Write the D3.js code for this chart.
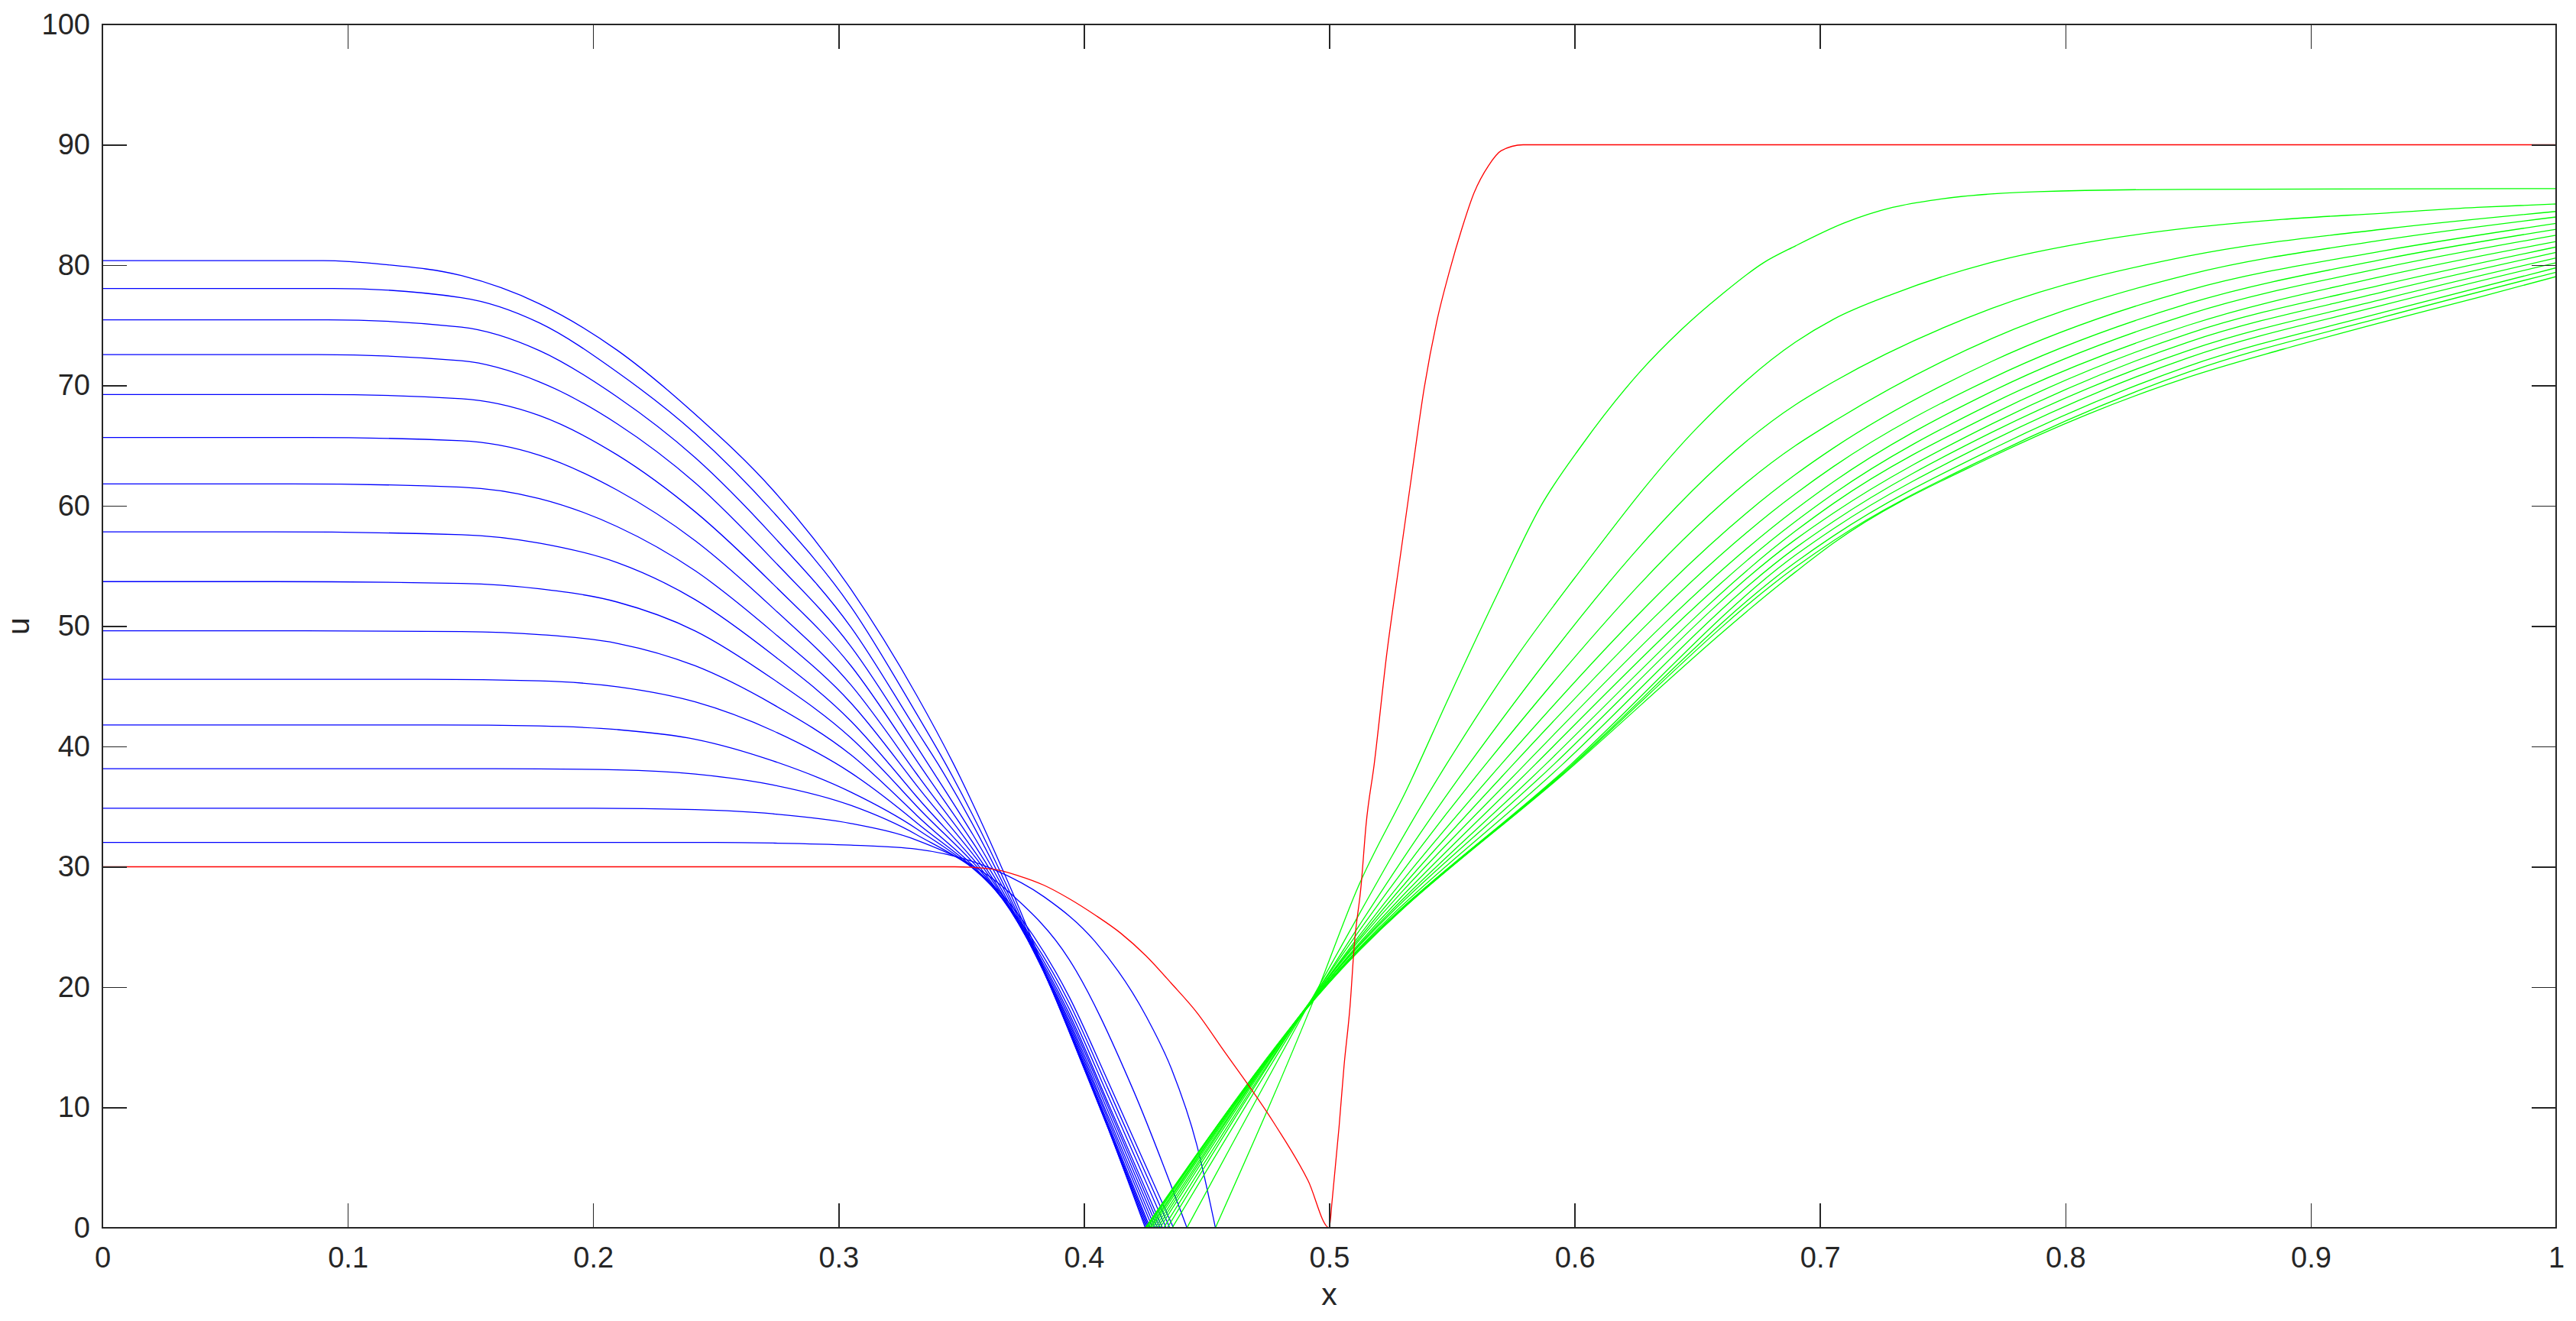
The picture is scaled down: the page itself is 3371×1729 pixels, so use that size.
<!DOCTYPE html>
<html>
<head>
<meta charset="utf-8">
<script src="https://cdn.jsdelivr.net/npm/d3@7/dist/d3.min.js"></script>
<style>
  html, body { margin: 0; padding: 0; background: #ffffff; }
  svg { display: block; }
  text { font-family: "Liberation Sans", Arial, Helvetica, sans-serif; fill: #262626; }
</style>
</head>
<body>
<svg id="chart" width="3371" height="1729"></svg>
<script>
// ---------------- data ----------------
const xTicks = [0, 0.1, 0.2, 0.3, 0.4, 0.5, 0.6, 0.7, 0.8, 0.9, 1];
const xTickLabels = ["0", "0.1", "0.2", "0.3", "0.4", "0.5", "0.6", "0.7", "0.8", "0.9", "1"];
const yTicks = [0, 10, 20, 30, 40, 50, 60, 70, 80, 90, 100];
const yTickLabels = ["0", "10", "20", "30", "40", "50", "60", "70", "80", "90", "100"];
const xLabel = "x";
const yLabel = "u";

// initial profile (red)
const redCurve = [[0,30],[0.3474,30],[0.363,29.8],[0.3734,29.25],[0.3838,28.46],[0.394,27.35],[0.4045,26.0],
  [0.4149,24.5],[0.4253,22.6],[0.4357,20.3],[0.446,17.9],[0.4564,14.9],[0.4775,8.7],[0.4914,3.9],[0.5,0],
  [0.5011,2.1],[0.504,8.4],[0.506,13.4],[0.5085,18.5],[0.5102,23.5],[0.513,28.5],[0.515,33.5],[0.5183,38.5],
  [0.5235,47.8],[0.5286,55.3],[0.5337,62.7],[0.5387,69.8],[0.5438,75.3],[0.549,79.5],[0.554,83.0],[0.559,86.0],
  [0.565,88.3],[0.570,89.5],[0.579,90],[1,90]];

// left-hand profiles (blue)
const blueCurves = [
  [[0,80.37],[0.09,80.37],[0.1146,80.06],[0.1463,79.13],[0.1781,76.79],[0.2098,72.93],[0.2416,67.6],[0.2733,61.3],[0.3051,53.05],[0.3318,44.27],[0.347,38.5],[0.37,28.3],[0.394,16.3],[0.41,8.2],[0.425,0]],
  [[0,78.06],[0.094,78.06],[0.1463,77.3],[0.1781,75.2],[0.2098,71.11],[0.2416,66.0],[0.2733,59.5],[0.3051,51.6],[0.3318,42.72],[0.3438,38.5],[0.37,27.8],[0.394,16.3],[0.41,8.2],[0.4255,0]],
  [[0,75.45],[0.092,75.45],[0.1463,74.85],[0.1781,72.9],[0.2098,69.05],[0.2416,64.0],[0.2733,57.5],[0.3051,49.9],[0.3318,41.35],[0.3407,38.5],[0.37,27.4],[0.394,16.4],[0.41,8.3],[0.426,0]],
  [[0,72.56],[0.088,72.56],[0.1463,72.05],[0.1781,70.3],[0.2098,66.81],[0.2416,61.9],[0.2733,55.5],[0.3051,48.3],[0.3318,40.04],[0.37,27.1],[0.394,16.5],[0.41,8.4],[0.4265,0]],
  [[0,69.25],[0.088,69.25],[0.1463,68.9],[0.1781,67.5],[0.2098,64.23],[0.2416,59.5],[0.2733,53.5],[0.3051,46.7],[0.3318,38.83],[0.37,26.8],[0.394,16.6],[0.41,8.6],[0.427,0]],
  [[0,65.68],[0.084,65.68],[0.1463,65.4],[0.1781,64.2],[0.2098,61.3],[0.2416,57.1],[0.2733,51.5],[0.3051,45.1],[0.3318,37.73],[0.37,26.6],[0.394,16.8],[0.41,8.9],[0.428,0]],
  [[0,61.82],[0.077,61.82],[0.1463,61.55],[0.1781,60.6],[0.2098,58.27],[0.2416,54.6],[0.2733,49.5],[0.3051,43.6],[0.3318,36.77],[0.37,26.5],[0.394,17.0],[0.41,9.2],[0.429,0]],
  [[0,57.83],[0.07,57.83],[0.1463,57.6],[0.1781,56.9],[0.2098,55.28],[0.2416,52.2],[0.2733,47.6],[0.3051,42.1],[0.3318,35.84],[0.37,26.4],[0.394,17.2],[0.41,9.6],[0.43,0]],
  [[0,53.70],[0.07,53.70],[0.1463,53.55],[0.1781,53.1],[0.2098,52.0],[0.2416,49.6],[0.2733,45.6],[0.3051,40.7],[0.3318,35.05],[0.37,26.4],[0.394,17.5],[0.41,10.0],[0.431,0]],
  [[0,49.61],[0.083,49.61],[0.1463,49.55],[0.1781,49.3],[0.2098,48.57],[0.2416,46.7],[0.2733,43.5],[0.3051,39.3],[0.3318,34.29],[0.37,26.4],[0.394,17.8],[0.41,10.3],[0.432,0]],
  [[0,45.58],[0.132,45.58],[0.1781,45.45],[0.2098,44.96],[0.2416,43.7],[0.2733,41.3],[0.3051,37.8],[0.3318,33.67],[0.37,26.5],[0.394,18.2],[0.41,10.9],[0.4335,0]],
  [[0,41.79],[0.137,41.79],[0.1781,41.7],[0.2098,41.4],[0.2416,40.6],[0.2733,38.8],[0.3051,36.2],[0.3318,33.16],[0.37,26.6],[0.394,18.7],[0.41,11.5],[0.435,0]],
  [[0,38.15],[0.16,38.15],[0.2098,38.05],[0.2416,37.7],[0.2733,36.8],[0.3051,35.1],[0.3318,32.67],[0.37,26.9],[0.394,19.2],[0.41,12.1],[0.4365,0]],
  [[0,34.87],[0.2,34.87],[0.2416,34.75],[0.2733,34.4],[0.3051,33.6],[0.3318,32.22],[0.37,27.8],[0.394,22.3],[0.42,11.5],[0.442,0]],
  [[0,32.02],[0.25,32.02],[0.2733,31.97],[0.3051,31.8],[0.3318,31.47],[0.363,29.8],[0.3838,27.5],[0.4045,23.8],[0.4253,17.6],[0.4357,13.2],[0.446,6.9],[0.4536,0]]
];

// right-hand profiles (green)
const greenCurves = [
  [[0.4536,0],[0.4948,19.5],[0.5117,28.3],[0.532,36.6],[0.5488,44.1],[0.5691,52.9],[0.586,59.9],[0.6028,65.0],[0.6265,71.1],[0.6433,74.6],[0.6602,77.6],[0.677,80.2],[0.69,81.6],[0.7098,83.5],[0.7296,84.8],[0.7495,85.5],[0.789,86.1],[0.85,86.3],[1.0,86.36]],
  [[0.442,0],[0.4945,19.6],[0.5477,38.5],[0.5758,47.3],[0.6,54.0],[0.65,66.5],[0.69,73.6],[0.7055,75.5],[0.7297,77.6],[0.7693,80.2],[0.809,81.9],[0.8488,83.05],[0.8885,83.8],[0.9282,84.3],[0.9679,84.8],[1.0,85.08]],
  [[0.436,0],[0.4945,19.5],[0.5568,38.5],[0.69,68.4],[0.7055,70.3],[0.77,76.4],[0.85,80.75],[0.93,83.0],[1.0,84.46]],
  [[0.434,0],[0.4945,19.5],[0.5637,38.5],[0.69,65.0],[0.7055,67.0],[0.77,73.9],[0.85,79.2],[0.93,82.1],[1.0,84.0]],
  [[0.4325,0],[0.4945,19.4],[0.57,38.5],[0.69,62.6],[0.7055,64.8],[0.77,72.0],[0.85,77.9],[0.93,81.2],[1.0,83.47]],
  [[0.431,0],[0.4945,19.4],[0.5749,38.5],[0.69,61.0],[0.7055,63.26],[0.77,70.6],[0.85,76.8],[0.93,80.5],[1.0,82.98]],
  [[0.430,0],[0.4945,19.4],[0.5797,38.5],[0.69,59.7],[0.7055,62.0],[0.77,69.5],[0.85,75.9],[0.93,79.8],[1.0,82.48]],
  [[0.429,0],[0.4945,19.3],[0.5839,38.5],[0.69,58.7],[0.7055,61.0],[0.77,68.5],[0.85,75.0],[0.93,79.1],[1.0,81.96]],
  [[0.428,0],[0.4945,19.3],[0.5881,38.5],[0.69,57.9],[0.7055,60.2],[0.77,67.6],[0.85,74.3],[0.93,78.4],[1.0,81.51]],
  [[0.4273,0],[0.4945,19.3],[0.5915,38.5],[0.69,57.2],[0.7055,59.4],[0.77,66.8],[0.85,73.6],[0.93,77.8],[1.0,81.06]],
  [[0.4267,0],[0.4945,19.2],[0.595,38.5],[0.69,56.5],[0.7055,58.7],[0.77,66.1],[0.85,72.9],[0.93,77.2],[1.0,80.6]],
  [[0.426,0],[0.4945,19.2],[0.5984,38.5],[0.69,55.9],[0.7055,58.1],[0.77,65.4],[0.85,72.3],[0.93,76.7],[1.0,80.2]],
  [[0.4255,0],[0.4945,19.2],[0.599,38.5],[0.69,55.3],[0.7055,57.5],[0.77,64.7],[0.85,71.6],[0.93,76.1],[1.0,79.78]],
  [[0.4252,0],[0.4945,19.1],[0.5995,38.5],[0.69,54.9],[0.7055,57.1],[0.77,64.2],[0.85,71.1],[0.93,75.7],[1.0,79.41]],
  [[0.425,0],[0.4945,19.1],[0.6,38.5],[0.69,54.5],[0.7055,56.9],[0.7693,64.0],[0.809,67.6],[0.8488,70.6],[0.8885,73.0],[0.9282,75.2],[0.9679,77.3],[1.0,79.05]]
];

// ---------------- layout ----------------
const W = 3371, H = 1729;
const plot = { left: 134, right: 3345, top: 32, bottom: 1607 };
const axisColor = "#262626";
const lineWidth = 1.3;

const svg = d3.select("#chart");
svg.append("rect").attr("width", W).attr("height", H).attr("fill", "#ffffff");

const x = d3.scaleLinear().domain([0, 1]).range([plot.left, plot.right]);
const y = d3.scaleLinear().domain([0, 100]).range([plot.bottom, plot.top]);

const line = d3.line().x(d => x(d[0])).y(d => y(d[1])).curve(d3.curveMonotoneX);

svg.append("clipPath").attr("id", "plotclip").append("rect")
  .attr("x", plot.left).attr("y", plot.top)
  .attr("width", plot.right - plot.left).attr("height", plot.bottom - plot.top);

const gLines = svg.append("g").attr("clip-path", "url(#plotclip)");

gLines.selectAll("path.blue").data(blueCurves).enter().append("path")
  .attr("class", "blue").attr("d", line)
  .attr("fill", "none").attr("stroke", "#0000ff").attr("stroke-width", lineWidth);

gLines.selectAll("path.green").data(greenCurves).enter().append("path")
  .attr("class", "green").attr("d", line)
  .attr("fill", "none").attr("stroke", "#00ff00").attr("stroke-width", lineWidth);

gLines.append("path").datum(redCurve).attr("d", line)
  .attr("fill", "none").attr("stroke", "#ff0000").attr("stroke-width", lineWidth);

// ---------------- axes (box with inward ticks on all four sides) ----------------
const tickLen = 32;
const tickFont = 38;

const xAxisBottom = d3.axisBottom(x).tickValues(xTicks).tickFormat((d, i) => xTickLabels[i])
  .tickSizeInner(-tickLen).tickSizeOuter(0).tickPadding(25);
const xAxisTop = d3.axisTop(x).tickValues(xTicks).tickFormat("")
  .tickSizeInner(-tickLen).tickSizeOuter(0);
const yAxisLeft = d3.axisLeft(y).tickValues(yTicks).tickFormat((d, i) => yTickLabels[i])
  .tickSizeInner(-tickLen).tickSizeOuter(0).tickPadding(16);
const yAxisRight = d3.axisRight(y).tickValues(yTicks).tickFormat("")
  .tickSizeInner(-tickLen).tickSizeOuter(0);

function styleAxis(g) {
  g.select(".domain").remove();
  g.selectAll(".tick line").attr("stroke", axisColor).attr("stroke-width", 1.5)
    .attr("shape-rendering", "crispEdges");
  g.selectAll(".tick text").attr("fill", axisColor)
    .style("font-family", '"Liberation Sans", Arial, Helvetica, sans-serif')
    .style("font-size", tickFont + "px");
}

svg.append("g").attr("transform", `translate(0,${plot.bottom})`).call(xAxisBottom).call(styleAxis);
svg.append("g").attr("transform", `translate(0,${plot.top})`).call(xAxisTop).call(styleAxis);
svg.append("g").attr("transform", `translate(${plot.left},0)`).call(yAxisLeft).call(styleAxis);
svg.append("g").attr("transform", `translate(${plot.right},0)`).call(yAxisRight).call(styleAxis);

// frame
svg.append("rect")
  .attr("x", plot.left).attr("y", plot.top)
  .attr("width", plot.right - plot.left).attr("height", plot.bottom - plot.top)
  .attr("fill", "none").attr("stroke", axisColor).attr("stroke-width", 2)
  .attr("shape-rendering", "crispEdges");

// axis labels
svg.append("text").text(xLabel)
  .attr("x", (plot.left + plot.right) / 2).attr("y", 1708)
  .attr("text-anchor", "middle").style("font-size", "41px");

svg.append("text").text(yLabel)
  .attr("transform", `translate(38, ${(plot.top + plot.bottom) / 2}) rotate(-90)`)
  .attr("text-anchor", "middle").style("font-size", "41px");
</script>
</body>
</html>
